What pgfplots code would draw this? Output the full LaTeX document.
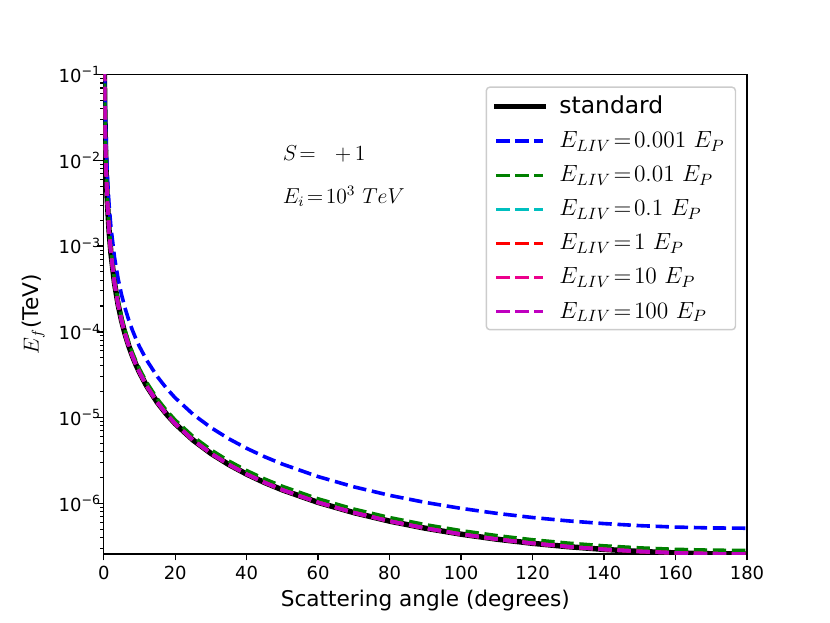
\RequirePackage{fix-cm}
\documentclass[border=0pt]{standalone}
\usepackage{fontspec}
\setmainfont{DejaVu Sans}
\usepackage{pgfplots}
\pgfplotsset{compat=1.18}
\usepackage{pgfplotstable}

\definecolor{mplg}{rgb}{0,0.5,0}
\definecolor{mplc}{rgb}{0,0.75,0.75}
\definecolor{mplm}{rgb}{0.75,0,0.75}

\pgfplotstableread{
t     std         blue        green
0.1   0.3354      0.6706      0.3689
0.2   0.08387     0.16773     0.09226
0.3   0.037277    0.074553    0.041004
0.5   0.013421    0.026841    0.014762
0.75  5.9645e-3   0.011929    6.5609e-3
1     3.3552e-3   6.7104e-3   3.6907e-3
1.5   1.4912e-3   2.9824e-3   1.6403e-3
2     8.3884e-4   1.6777e-3   9.2272e-4
3     3.7286e-4   7.4571e-4   4.1015e-4
4     2.0977e-4   4.1955e-4   2.3075e-4
5     1.3428e-4   2.6857e-4   1.4771e-4
6     9.3280e-5   1.8657e-4   1.0261e-4
7     6.8556e-5   1.3711e-4   7.5412e-5
8     5.2507e-5   1.0501e-4   5.7758e-5
9     4.1504e-5   8.3008e-5   4.5654e-5
10    3.3636e-5   6.7272e-5   3.7000e-5
12    2.3385e-5   4.6770e-5   2.5724e-5
15    1.4997e-5   2.9994e-5   1.6497e-5
17.5  1.1041e-5   2.2082e-5   1.2145e-5
20    8.4733e-6   1.6947e-5   9.3206e-6
25    5.4540e-6   1.0908e-5   5.9994e-6
30    3.8141e-6   7.6282e-6   4.1955e-6
35    2.8256e-6   5.6512e-6   3.1082e-6
40    2.1842e-6   4.3684e-6   2.4026e-6
45    1.7447e-6   3.4894e-6   1.9192e-6
50    1.4305e-6   2.8610e-6   1.5736e-6
60    1.0220e-6   2.0440e-6   1.1242e-6
70    7.7662e-7   1.5532e-6   8.5428e-7
80    6.1838e-7   1.2368e-6   6.8022e-7
90    5.1100e-7   1.0220e-6   5.6210e-7
100   4.3539e-7   8.7078e-7   4.7893e-7
110   3.8077e-7   7.6154e-7   4.1885e-7
120   3.4067e-7   6.8134e-7   3.7474e-7
130   3.1106e-7   6.2212e-7   3.4217e-7
140   2.8935e-7   5.7870e-7   3.1829e-7
150   2.7385e-7   5.4770e-7   3.0124e-7
160   2.6344e-7   5.2688e-7   2.8978e-7
170   2.5746e-7   5.1492e-7   2.8321e-7
180   2.5550e-7   5.1100e-7   2.8105e-7
}\data

\begin{document}
\begin{tikzpicture}
\begin{axis}[
  scale only axis,
  width=357.12pt, height=266.11pt,
  xmin=0, xmax=180,
  ymode=log, ymin=2.555e-7, ymax=0.1,
  xtick={0,20,...,180},
  ytick={1e-6,1e-5,1e-4,1e-3,1e-2,1e-1},
  yticklabels={10\textsuperscript{−6},10\textsuperscript{−5},10\textsuperscript{−4},10\textsuperscript{−3},10\textsuperscript{−2},10\textsuperscript{−1}},
  minor ytick={3e-7,4e-7,5e-7,6e-7,7e-7,8e-7,9e-7,
    2e-6,3e-6,4e-6,5e-6,6e-6,7e-6,8e-6,9e-6,
    2e-5,3e-5,4e-5,5e-5,6e-5,7e-5,8e-5,9e-5,
    2e-4,3e-4,4e-4,5e-4,6e-4,7e-4,8e-4,9e-4,
    2e-3,3e-3,4e-3,5e-3,6e-3,7e-3,8e-3,9e-3,
    2e-2,3e-2,4e-2,5e-2,6e-2,7e-2,8e-2,9e-2},
  /pgf/number format/assume math mode=true,
  tick align=outside,
  xtick pos=bottom, ytick pos=left,
  major tick length=3.5pt, minor tick length=2pt,
  every tick/.style={black, line width=0.8pt},
  every minor tick/.style={black, line width=0.6pt},
  axis line style={line width=0.8pt},
  tick label style={font=\fontsize{10}{12}\selectfont},
  xticklabel style={anchor=north, inner sep=0pt, yshift=-2.8pt},
  yticklabel style={anchor=east, inner sep=0pt, xshift=2.2pt},
  xlabel={Scattering angle (degrees)},
  ylabel={$E_f$(TeV)},
  label style={font=\fontsize{12}{14}\selectfont},
  xlabel style={at={(axis description cs:0.5,0)}, anchor=center, yshift=-25.6pt},
  ylabel style={at={(axis description cs:-0.1092,0.5)}, anchor=center},
  legend cell align=left,
  legend image code/.code={\draw[#1] (0pt,0pt) -- (26pt,0pt);},
  legend style={
    at={(rel axis cs:1,1)}, anchor=north east, xshift=-6pt, yshift=-6.5pt,
    draw=black!20, fill=white, rounded corners=2pt, line width=0.8pt,
    font=\fontsize{13}{15.6}\selectfont,
    inner xsep=4pt, inner ysep=3pt, row sep=4.5pt,
    /tikz/every odd column/.append style={column sep=5.6pt},
  },
]
\addplot[black, line width=3pt, line cap=rect] table[x=t,y=std]{\data};
\addlegendentry{standard}
\addplot[blue, line width=2pt, dash pattern=on 7.4pt off 3.2pt] table[x=t,y=blue]{\data};
\addlegendentry{$E_{LIV}\!=\!0.001\ E_P$}
\addplot[mplg, line width=2pt, dash pattern=on 7.4pt off 3.2pt] table[x=t,y=green]{\data};
\addlegendentry{$E_{LIV}\!=\!0.01\ E_P$}
\addplot[mplc, line width=2pt, dash pattern=on 7.4pt off 3.2pt] table[x=t,y=std]{\data};
\addlegendentry{$E_{LIV}\!=\!0.1\ E_P$}
\addplot[red, line width=2pt, dash pattern=on 7.4pt off 3.2pt] table[x=t,y=std]{\data};
\addlegendentry{$E_{LIV}\!=\!1\ E_P$}
\addplot[magenta, line width=2pt, dash pattern=on 7.4pt off 3.2pt] table[x=t,y=std]{\data};
\addlegendentry{$E_{LIV}\!=\!10\ E_P$}
\addplot[mplm, line width=2pt, dash pattern=on 7.4pt off 3.2pt] table[x=t,y=std]{\data};
\addlegendentry{$E_{LIV}\!=\!100\ E_P$}
\node[anchor=base west, inner sep=0pt, font=\fontsize{12}{14}\selectfont] at (axis cs:50,1e-2) {$S\!=\;\ {+}\,1$};
\node[anchor=base west, inner sep=0pt, font=\fontsize{12}{14}\selectfont] at (axis cs:50,3.162e-3) {$E_i\!=\!10^3\ TeV$};
\end{axis}
\pgfresetboundingbox
\path[use as bounding box] (-57.6pt,-38.016pt) rectangle (403.2pt,307.584pt);
\end{tikzpicture}
\end{document}
